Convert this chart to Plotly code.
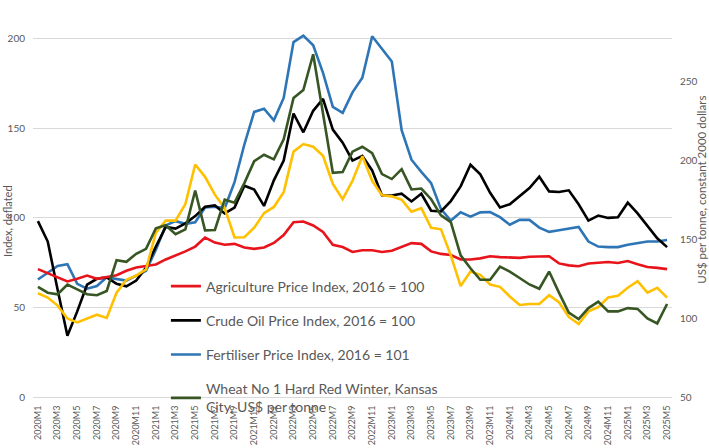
import plotly.graph_objects as go

months = [f"{y}M{m}" for y in range(2020, 2026) for m in range(1, 13)][:65]
tick_labels = months[::2]

agriculture = [71.4, 69, 67, 64.5, 66, 67.8, 66, 66.8, 68, 70.5,
               72.3, 73.2, 74, 76.8, 79, 81.3, 84, 89, 86.2, 85,
               85.5, 83.5, 82.7, 83.5, 86, 90.4, 97.6, 98, 95.8, 92.2,
               85, 83.7, 81, 81.9, 81.9, 81, 81.7, 84, 85.9, 85.5,
               81.3, 79.9, 79.3, 76.8, 76.8, 77.4, 78.6, 78.1, 78.1, 77.7,
               78.3, 78.6, 78.6, 74.6, 73.5, 73, 74.5, 75, 75.4, 74.8,
               75.9, 74.1, 72.6, 72.1, 71.4]
crude_oil = [98.2, 86.8, 60, 34.2, 47.8, 62.7, 66, 66.8, 63.2, 61.8,
             65, 72.3, 84, 95, 94, 97, 101, 106.2, 107, 102.5,
             105.8, 118, 115.8, 106.7, 121, 132, 158.3, 147.8, 159.8, 166.5,
             149.3, 142, 132, 134.6, 126.5, 112.5, 112.5, 113.5, 109.2, 113.5,
             104, 103.6, 109.4, 117.6, 129.7, 124.3, 114, 105.8, 107.6, 112.1,
             116.7, 123, 114.8, 114.5, 115.4, 107.6, 98.5, 101.3, 100, 100.4,
             108.5, 102.5, 95.8, 88.6, 83.7]
fertiliser = [65.6, 69.6, 73.2, 74.1, 63.2, 60.5, 62, 66.8, 66, 65,
              67.8, 70.5, 82.2, 95.8, 98.2, 96.7, 97.6, 105.8, 106.2, 105.5,
              120, 141, 159.2, 161, 154.5, 167, 198.2, 201.8, 196.4, 181,
              162, 158.7, 170.1, 178.3, 201.4, 194.6, 187.3, 149, 132.5, 125.7,
              119.4, 104.9, 98.5, 103.1, 100.7, 103.1, 103.3, 100.4, 96.2, 98.9,
              98.9, 94.6, 92.2, 93.1, 94, 94.9, 86.8, 84, 83.7, 83.7,
              85, 85.9, 86.8, 86.8, 87.7]
wheat = [119.9, 116.2, 115.2, 121.4, 118.3, 115.2, 114.6, 117.3, 136.8, 135.8,
         140.9, 144, 157, 159, 153.3, 156.4, 181, 155.7, 156, 175.2,
         173.3, 185.7, 199.6, 203.7, 200.8, 213.5, 239.7, 244.8, 267.5, 229.8,
         192.3, 192.8, 205.7, 208.8, 204.7, 191.4, 188.3, 194.6, 181.7, 182.3,
         175.5, 165.2, 161, 139.9, 131.7, 124.4, 124.4, 132.7, 129.6, 125.5,
         121.4, 118.7, 129.6, 116.2, 103.5, 99.4, 106.4, 110.5, 104.3, 104.3,
         106.4, 105.9, 99.8, 96.7, 109]
yellow_series = [115.8, 113.1, 108, 99.8, 97.3, 99.8, 102.2, 100.2, 116.2, 124.4,
                 127, 131, 154.3, 161.9, 161.9, 172.4, 197.5, 189.7, 178.4, 169.8,
                 151.2, 151.4, 157.4, 166.7, 170.6, 180, 205.7, 210.5, 208.8, 203.1,
                 185.2, 175.5, 187.2, 202.7, 187.2, 178, 177.3, 175.2, 167.5, 169.8,
                 157.3, 156.4, 139.9, 120.4, 129.6, 127.5, 121.4, 119.9, 113.8, 108.4,
                 109, 109, 114.6, 110.1, 100.8, 96.3, 104.3, 107, 113.1, 114.2,
                 119.3, 123.5, 116.2, 119.3, 113.1]

LW = 2.6
fig = go.Figure()
fig.add_trace(go.Scatter(x=months, y=yellow_series, mode="lines", yaxis="y2",
                         line=dict(color="#FFC000", width=LW), showlegend=False,
                         name="Series 5", legendgroup="e"))
fig.add_trace(go.Scatter(x=months, y=wheat, mode="lines", yaxis="y2",
                         line=dict(color="#375623", width=LW),
                         name="Wheat No 1 Hard Red Winter, Kansas<br>City, US$ per tonne",
                         legendrank=4, legendgroup="d"))
fig.add_trace(go.Scatter(x=months, y=fertiliser, mode="lines",
                         line=dict(color="#2E75B6", width=LW),
                         name="Fertiliser Price Index, 2016 = 101", legendrank=3, legendgroup="c"))
fig.add_trace(go.Scatter(x=months, y=crude_oil, mode="lines",
                         line=dict(color="#000000", width=LW),
                         name="Crude Oil Price Index, 2016 = 100", legendrank=2, legendgroup="b"))
fig.add_trace(go.Scatter(x=months, y=agriculture, mode="lines",
                         line=dict(color="#E8141B", width=LW),
                         name="Agriculture Price Index, 2016 = 100", legendrank=1, legendgroup="a"))

grey = "#595959"
fig.update_layout(
    width=709, height=448,
    margin=dict(l=33, r=37, t=3, b=40),
    paper_bgcolor="white", plot_bgcolor="white",
    font=dict(family="Lato", color=grey),
    showlegend=True,
    legend=dict(x=0.208, y=0.321, xanchor="left", yanchor="top",
                bgcolor="rgba(0,0,0,0)", font=dict(size=14, color=grey),
                tracegroupgap=13, itemwidth=30, traceorder="grouped"),
    xaxis=dict(type="category", range=[-0.5, 64.5], tickmode="array",
               tickvals=tick_labels, ticktext=tick_labels, tickangle=-90,
               tickfont=dict(size=9, color=grey), showgrid=False,
               showline=True, linecolor="#d9d9d9", linewidth=1,
               ticks="outside", ticklen=4, tickcolor="rgba(0,0,0,0)"),
    yaxis=dict(range=[0, 220], tickvals=[0, 50, 100, 150, 200],
               showgrid=True, gridcolor="#d9d9d9", gridwidth=1, zeroline=False,
               tickfont=dict(size=10, color=grey),
               ticks="outside", ticklen=5, tickcolor="rgba(0,0,0,0)"),
    yaxis2=dict(range=[50, 300], tickvals=[50, 100, 150, 200, 250, 300],
                overlaying="y", side="right", showgrid=False, zeroline=False,
                tickfont=dict(size=10, color=grey),
                ticks="outside", ticklen=5, tickcolor="rgba(0,0,0,0)"),
    annotations=[
        dict(text="Index, deflated", xref="paper", yref="paper",
             x=-0.039, y=0.447, xanchor="center", yanchor="middle",
             textangle=-90, showarrow=False, font=dict(size=11, color=grey)),
        dict(text="US$ per tonne, constant 2000 dollars", xref="paper", yref="paper",
             x=1.047, y=0.526, xanchor="center", yanchor="middle",
             textangle=-90, showarrow=False, font=dict(size=11.5, color=grey)),
    ],
)

fig.write_html("out.html")
